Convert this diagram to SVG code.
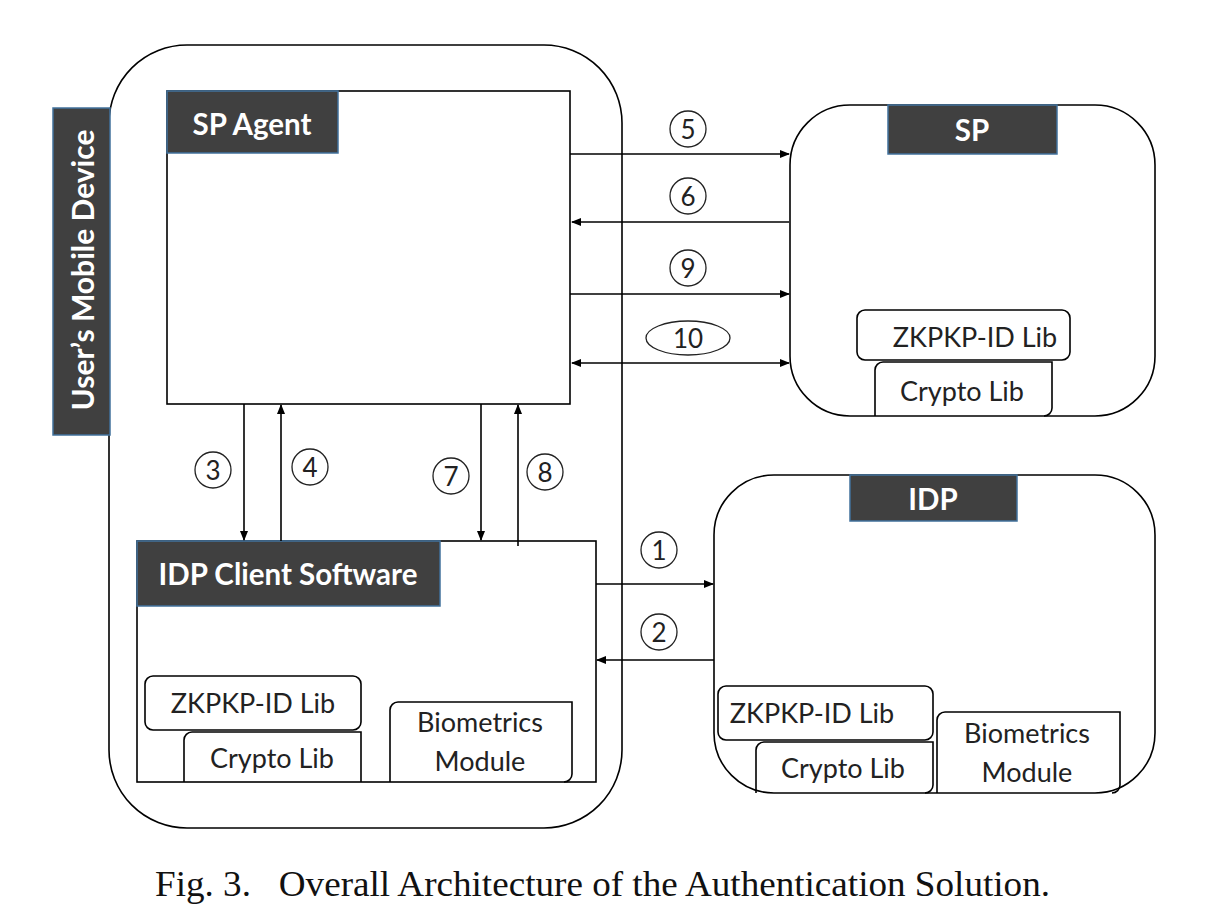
<svg xmlns="http://www.w3.org/2000/svg" width="1207" height="916" viewBox="0 0 1207 916">
<defs>
<style>
.box{fill:none;stroke:#000;stroke-width:1.6}
.wbox{fill:#fff;stroke:#000;stroke-width:1.6}
.tab{fill:#404040;stroke:#41719c;stroke-width:1.5}
.tabt{font-family:Lato,"Open Sans",sans-serif;font-weight:bold;fill:#fff;text-anchor:middle;dominant-baseline:central}
.lbl{font-family:Lato,"Open Sans",sans-serif;fill:#222;text-anchor:middle;dominant-baseline:central;font-size:27px}
.num{font-family:Lato,"Open Sans",sans-serif;fill:#222;text-anchor:middle;dominant-baseline:central;font-size:26px}
.circ{fill:none;stroke:#222;stroke-width:1.3}
.ln{stroke:#000;stroke-width:1.6;fill:none}
</style>
<marker id="ah" viewBox="0 0 10 10" refX="9" refY="5" markerWidth="10" markerHeight="10" markerUnits="userSpaceOnUse" orient="auto-start-reverse">
<path d="M0,1 L10,5 L0,9 z" fill="#000"/>
</marker>
</defs>
<rect width="1207" height="916" fill="#fff"/>

<g id="mobile-device">
<rect class="box" x="109" y="45" width="513" height="783" rx="78" ry="78"/>
<rect class="tab" x="53" y="108" width="57" height="327"/>
<text class="tabt" font-size="30" transform="translate(82,270) rotate(-90)">User’s Mobile Device</text>
</g>

<g id="sp-agent">
<rect class="wbox" x="167" y="91" width="403" height="313"/>
<rect class="tab" x="167" y="91" width="171" height="62"/>
<text class="tabt" font-size="29.5" x="252" y="123">SP Agent</text>
</g>

<g id="idp-client">
<rect class="wbox" x="137" y="541" width="459" height="241"/>
<rect class="tab" x="137" y="541" width="303" height="65" stroke="#000"/>
<text class="tabt" font-size="29.5" x="288" y="573">IDP Client Software</text>
<rect class="wbox" x="145" y="676" width="216" height="54" rx="8"/>
<text class="lbl" x="253" y="702">ZKPKP-ID Lib</text>
<path class="ln" d="M184,782 V740 a8,8 0 0 1 8,-8 H361 V782"/>
<text class="lbl" x="272" y="757">Crypto Lib</text>
<path class="ln" d="M390,782 V710 a8,8 0 0 1 8,-8 H572 V774 a8,8 0 0 1 -8,8"/>
<text class="lbl" x="480" y="721">Biometrics</text>
<text class="lbl" x="480" y="760">Module</text>
</g>

<g id="sp">
<rect class="box" x="790" y="105" width="365" height="311" rx="60" ry="60"/>
<rect class="tab" x="888" y="105" width="169" height="49"/>
<text class="tabt" font-size="29.5" x="972" y="129">SP</text>
<rect class="wbox" x="857" y="310" width="213" height="50" rx="8"/>
<text class="lbl" x="975" y="336">ZKPKP-ID Lib</text>
<path class="ln" d="M875,416 V370 a8,8 0 0 1 8,-8 H1052 V408 a8,8 0 0 1 -8,8"/>
<text class="lbl" x="962" y="390">Crypto Lib</text>
</g>

<g id="idp">
<rect class="box" x="714" y="475" width="441" height="318" rx="60" ry="60"/>
<rect class="tab" x="850" y="475" width="167" height="46"/>
<text class="tabt" font-size="29.5" x="933" y="498">IDP</text>
<rect class="wbox" x="718" y="686" width="215" height="54" rx="8"/>
<text class="lbl" x="812" y="712">ZKPKP-ID Lib</text>
<path class="ln" d="M756,793 V750 a8,8 0 0 1 8,-8 H933 V785 a8,8 0 0 1 -8,8"/>
<text class="lbl" x="843" y="767">Crypto Lib</text>
<path class="ln" d="M937,793 V720 a8,8 0 0 1 8,-8 H1120 V785 a8,8 0 0 1 -8,8"/>
<text class="lbl" x="1027" y="732">Biometrics</text>
<text class="lbl" x="1027" y="771">Module</text>
</g>

<g id="connectors">
<line class="ln" x1="570" y1="154" x2="789" y2="154" marker-end="url(#ah)"/>
<line class="ln" x1="789" y1="222" x2="572" y2="222" marker-end="url(#ah)"/>
<line class="ln" x1="570" y1="294" x2="789" y2="294" marker-end="url(#ah)"/>
<line class="ln" x1="572" y1="363" x2="789" y2="363" marker-start="url(#ah)" marker-end="url(#ah)"/>
<line class="ln" x1="244" y1="404" x2="244" y2="540" marker-end="url(#ah)"/>
<line class="ln" x1="281" y1="541" x2="281" y2="405" marker-end="url(#ah)"/>
<line class="ln" x1="481" y1="404" x2="481" y2="540" marker-end="url(#ah)"/>
<line class="ln" x1="518" y1="546" x2="518" y2="405" marker-end="url(#ah)"/>
<line class="ln" x1="596" y1="584" x2="713" y2="584" marker-end="url(#ah)"/>
<line class="ln" x1="714" y1="660" x2="597" y2="660" marker-end="url(#ah)"/>

<circle class="circ" cx="688" cy="129" r="18"/><text class="num" x="688" y="129">5</text>
<circle class="circ" cx="688" cy="196" r="18"/><text class="num" x="688" y="196">6</text>
<circle class="circ" cx="688" cy="268" r="18"/><text class="num" x="688" y="268">9</text>
<ellipse class="circ" cx="688" cy="338" rx="42" ry="17"/><text class="num" x="688" y="338">10</text>
<circle class="circ" cx="213" cy="470" r="18"/><text class="num" x="213" y="470">3</text>
<circle class="circ" cx="310" cy="467" r="18"/><text class="num" x="310" y="467">4</text>
<circle class="circ" cx="451" cy="476" r="18"/><text class="num" x="451" y="476">7</text>
<circle class="circ" cx="545" cy="472" r="18"/><text class="num" x="545" y="472">8</text>
<circle class="circ" cx="659" cy="550" r="18"/><text class="num" x="659" y="550">1</text>
<circle class="circ" cx="659" cy="632" r="18"/><text class="num" x="659" y="632">2</text>
</g>

<text x="155" y="896" font-family="'Liberation Serif',serif" font-size="36" textLength="895" lengthAdjust="spacingAndGlyphs" fill="#111" xml:space="preserve">Fig. 3.   Overall Architecture of the Authentication Solution.</text>
</svg>
